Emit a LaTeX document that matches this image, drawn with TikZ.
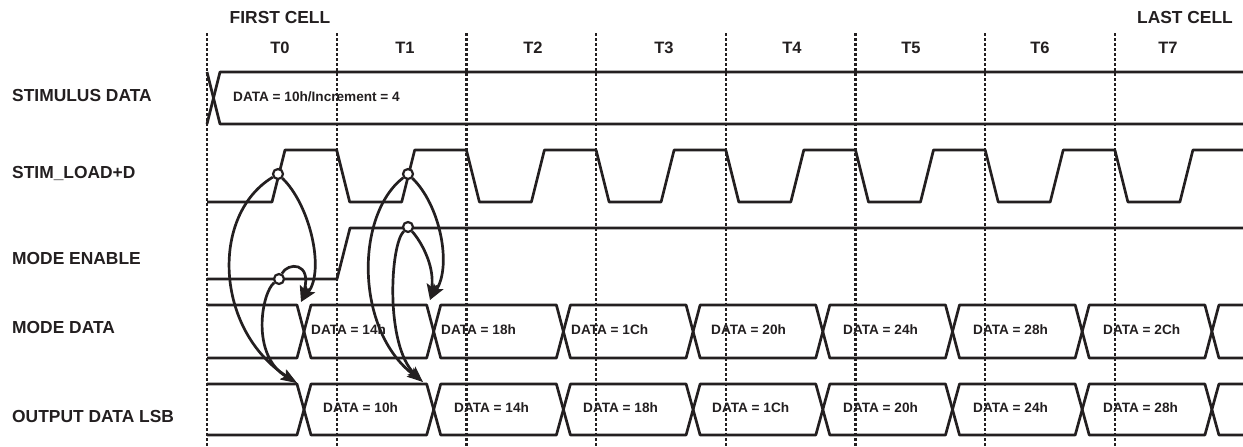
\documentclass[tikz,border=0pt]{standalone}
\usepackage{fontspec}
\setmainfont{Liberation Sans}
\usetikzlibrary{arrows.meta}
\definecolor{ink}{HTML}{231F20}
\begin{document}
\begin{tikzpicture}[x=1pt,y=-1pt,
  wave/.style={draw=ink, line width=2.7pt, line join=round},
  gridline/.style={draw=ink, line width=2.2pt, dash pattern=on 2.5pt off 2.5pt},
  lbl/.style={font=\fontsize{17.4}{20}\selectfont\bfseries, text=ink, anchor=west, inner sep=0pt},
  tlab/.style={font=\fontsize{16.5}{20}\selectfont\bfseries, text=ink, inner sep=0pt},
  dat/.style={font=\fontsize{13.6}{16}\selectfont\bfseries, text=ink, anchor=west, inner sep=0pt},
  dotc/.style={circle, draw=ink, fill=white, line width=2.2pt, minimum size=10pt, inner sep=0pt},
  link/.style={draw=ink, line width=2.7pt, -{Stealth[length=16pt,width=11pt,inset=3pt]}}]
\useasboundingbox (0,0) rectangle (1243,447);

% grid
\foreach \k in {0,...,7}{
  \draw[gridline] ({207+129.7*\k},33) -- ({207+129.7*\k},447);
}

% headings
\node[lbl, anchor=center] (first) at (280,18) {FIRST CELL};
\node[lbl, anchor=center] (last) at (1185,18) {LAST CELL};
\foreach \n/\x in {0/280,1/405,2/533,3/664,4/792,5/911,6/1040,7/1168}{
  \node[tlab] (t\n) at (\x,48) {T\n};
}

% signal names
\node[lbl] (nstim) at (12,96) {STIMULUS DATA};
\node[lbl] (nload) at (12,173) {STIM\_LOAD+D};
\node[lbl] (nen) at (12,259) {MODE ENABLE};
\node[lbl] (nmd) at (12,328) {MODE DATA};
\node[lbl] (nout) at (12,417) {OUTPUT DATA LSB};

% stimulus data
\draw[wave] (207,72) -- (220,124) -- (1243,124);
\draw[wave] (207,124) -- (220,72) -- (1243,72);
\node[dat] (sd) at (233,97) {DATA = 10h/Increment = 4};

% STIM_LOAD+D
\draw[wave] (207,202) -- (272,202) -- (285,150)
  \foreach \k in {1,...,7}{
    -- ({207+129.7*\k},150) -- ({220+129.7*\k},202) -- ({272+129.7*\k},202) -- ({285+129.7*\k},150)
  } -- (1243,150);

% MODE ENABLE
\draw[wave] (207,279) -- (337,279) -- (350,228) -- (1243,228);

% buses
\foreach \t/\b in {305/358,384/435}{
  \pgfmathsetmacro\m{(\t+\b)/2}
  \draw[wave] (207,\t) -- (297,\t) -- (304,\m) -- (297,\b) -- (207,\b);
  \foreach \k in {0,...,6}{
    \pgfmathsetmacro\ca{304+129.7*\k}
    \pgfmathsetmacro\cb{\ca+129.7}
    \draw[wave] (\ca,\m) -- ({\ca+7},\t) -- ({\cb-7},\t) -- (\cb,\m) -- ({\cb-7},\b) -- ({\ca+7},\b) -- cycle;
  }
  \draw[wave] (1243,\t) -- (1218.9,\t) -- (1211.9,\m) -- (1218.9,\b) -- (1243,\b);
}

% data labels
\foreach \n/\x/\v in {1/311/14h,2/441/18h,3/571/1Ch,4/711/20h,5/843/24h,6/973/28h,7/1103/2Ch}{
  \node[dat] (md\n) at (\x,330) {DATA = \v};
}
\foreach \n/\x/\v in {1/323/10h,2/454/14h,3/583/18h,4/712/1Ch,5/843/20h,6/973/24h,7/1103/28h}{
  \node[dat] (od\n) at (\x,408) {DATA = \v};
}

% event markers
\node[dotc] (s1) at (278,174) {};
\node[dotc] (e1) at (279,279) {};
\node[dotc] (s2) at (408,174) {};
\node[dotc] (e2) at (408,227) {};

% causal arrows
\coordinate (m1) at (301,302);
\coordinate (o1) at (297,383);
\coordinate (m2) at (430,300);
\coordinate (o2) at (423,382);

\draw[link] (s1) .. controls (210,215) and (215,330) .. (o1);
\draw[link] (s1) .. controls (310,205) and (325,270) .. (m1);
\draw[link] (e1) .. controls (288,262) and (312,262) .. (m1);
\draw[link] (e1) .. controls (262,292) and (250,355) .. (o1);

\draw[link] (s2) .. controls (355,215) and (355,330) .. (o2);
\draw[link] (s2) .. controls (440,205) and (452,265) .. (m2);
\draw[link] (e2) .. controls (420,240) and (435,265) .. (m2);
\draw[link] (e2) .. controls (390,245) and (385,345) .. (o2);
\end{tikzpicture}
\end{document}
